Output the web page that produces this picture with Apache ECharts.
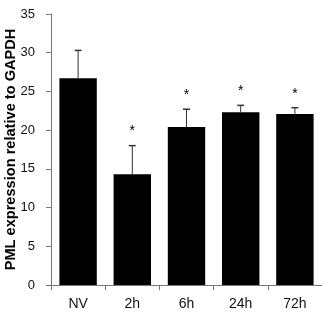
<!DOCTYPE html>
<html>
<head>
<meta charset="utf-8">
<script src="https://cdn.jsdelivr.net/npm/echarts@6/dist/echarts.min.js"></script>
<style>
  html, body { margin: 0; padding: 0; background: #fff; }
  #chart { width: 322px; height: 315px; }
</style>
</head>
<body>
<div id="chart"></div>
<script>
// data
var categories = ["NV", "2h", "6h", "24h", "72h"];
var means = [26.7, 14.3, 20.4, 22.3, 22.1];
var errTops = [30.3, 18.0, 22.7, 23.2, 22.9];
var stars = ["", "*", "*", "*", "*"];
var yTicks = [0, 5, 10, 15, 20, 25, 30, 35];

var myChart = echarts.init(document.getElementById("chart"));

myChart.setOption({
  animation: false,
  grid: { left: 51, right: 0, top: 14, bottom: 30, outerBoundsMode: "none", containLabel: false },
  xAxis: {
    type: "category",
    data: categories,
    axisLine: { lineStyle: { color: "#777", width: 1 } },
    axisTick: { show: true, length: 5, lineStyle: { color: "#777" } },
    axisLabel: { color: "#111", fontSize: 14, fontFamily: "Liberation Sans, Arial", margin: 12 }
  },
  yAxis: {
    type: "value",
    min: yTicks[0],
    max: yTicks[yTicks.length - 1],
    interval: 5,
    name: "PML expression relative to GAPDH",
    nameLocation: "middle",
    nameGap: 33,
    nameMoveOverlap: false,
    nameTextStyle: { color: "#000", fontSize: 14.6, fontWeight: "bold", fontFamily: "Liberation Sans, Arial" },
    splitLine: { show: false },
    axisLine: { show: true, lineStyle: { color: "#777", width: 1 } },
    axisTick: { show: true, length: 5, lineStyle: { color: "#777" } },
    axisLabel: { color: "#111", fontSize: 13, fontFamily: "Liberation Sans, Arial", margin: 16 }
  },
  series: [
    {
      type: "bar",
      data: means,
      barCategoryGap: "31%",
      itemStyle: { color: "#000" },
      z: 2
    },
    {
      type: "custom",
      data: categories.map(function (c, i) { return [i, means[i], errTops[i]]; }),
      renderItem: function (params, api) {
        var base = api.coord([api.value(0), api.value(1)]);
        var top = api.coord([api.value(0), api.value(2)]);
        var half = 3.5;
        var kids = [
          { type: "line", shape: { x1: base[0], y1: base[1], x2: top[0], y2: top[1] },
            style: { stroke: "#333", lineWidth: 1 } },
          { type: "line", shape: { x1: top[0] - half, y1: top[1], x2: top[0] + half, y2: top[1] },
            style: { stroke: "#333", lineWidth: 1.5 } }
        ];
        var s = stars[params.dataIndex];
        if (s) {
          kids.push({ type: "text", x: top[0], y: top[1] - 14,
            style: { text: s, fill: "#000", fontSize: 14, fontFamily: "Liberation Sans, Arial",
                     align: "center", verticalAlign: "middle" } });
        }
        return { type: "group", children: kids };
      },
      z: 3
    }
  ]
});
</script>
</body>
</html>
